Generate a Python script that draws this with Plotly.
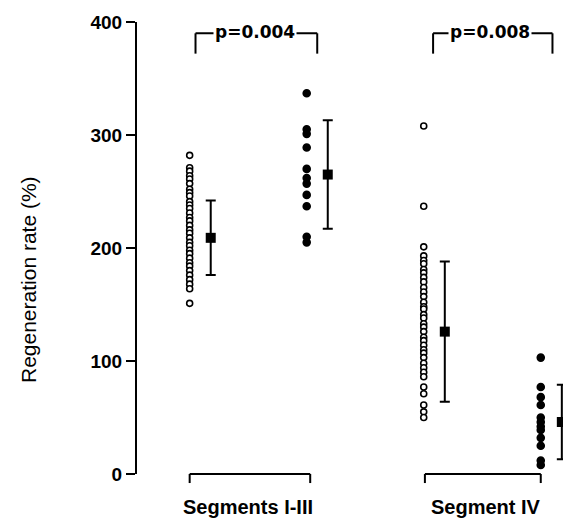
import plotly.graph_objects as go

# ---- data ----
group_labels = ["Segments I-III", "Segment IV"]
p_labels = ["p=0.004", "p=0.008"]
y_ticks = [0, 100, 200, 300, 400]

seg13_open = [282, 271, 268, 264, 261, 257, 252, 249, 246, 241, 238, 235, 231,
              227, 224, 220, 216, 213, 209, 205, 202, 198, 195, 191, 187, 184,
              180, 176, 172, 168, 164, 151]
seg13_filled = [337, 305, 301, 289, 270, 262, 257, 247, 237, 210, 205]
seg4_open = [308, 237, 201, 193, 189, 186, 181, 178, 174, 170, 165, 161, 157,
             152, 148, 146, 141, 138, 133, 130, 126, 121, 118, 114, 110, 107,
             103, 98, 94, 90, 86, 77, 71, 61, 55, 50]
seg4_filled = [103, 77, 68, 61, 50, 46, 42, 39, 32, 25, 12, 8]

means = [209, 265, 126, 46]
sds = [33, 48, 62, 33]

# ---- layout constants ----
col_x = [1, 2, 3, 4]
mean_off = 0.18
X_RANGE = [0.55, 4.19]
FONT = "Liberation Sans, Arial, sans-serif"


def xpaper(x):
    return (x - X_RANGE[0]) / (X_RANGE[1] - X_RANGE[0])


fig = go.Figure()

series = [seg13_open, seg13_filled, seg4_open, seg4_filled]
for i, vals in enumerate(series):
    filled = i % 2 == 1
    fig.add_trace(go.Scatter(
        x=[col_x[i]] * len(vals), y=vals, mode="markers",
        marker=dict(symbol="circle", size=7 if filled else 6,
                    color="black" if filled else "white",
                    line=dict(color="black", width=1.6)),
        cliponaxis=False, showlegend=False, hoverinfo="y"))

fig.add_trace(go.Scatter(
    x=[c + mean_off for c in col_x], y=means, mode="markers",
    marker=dict(symbol="square", size=10, color="black"),
    error_y=dict(type="data", array=sds, visible=True, color="black",
                 thickness=2, width=5),
    cliponaxis=False, showlegend=False))

shapes = []
line = dict(color="black", width=2)
# bottom brackets (paper coords so the end ticks are not clipped)
tick_down = -0.02
for a, b in [(1.0, 2.03), (3.01, 4.0)]:
    pa, pb = xpaper(a), xpaper(b)
    for s in [dict(x0=pa, x1=pb, y0=0, y1=0),
              dict(x0=pa, x1=pa, y0=0, y1=tick_down),
              dict(x0=pb, x1=pb, y0=0, y1=tick_down)]:
        shapes.append(dict(type="line", xref="paper", yref="paper",
                           line=line, **s))
# top brackets
for a, b in [(1.05, 2.09), (3.08, 4.1)]:
    pa, pb = xpaper(a), xpaper(b)
    for s in [dict(x0=pa, x1=pb, y0=390, y1=390),
              dict(x0=pa, x1=pa, y0=390, y1=372),
              dict(x0=pb, x1=pb, y0=390, y1=372)]:
        shapes.append(dict(type="line", xref="paper", yref="y",
                           line=line, **s))

annotations = []
for xc, txt in zip([1.56, 3.57], p_labels):
    annotations.append(dict(x=xc, y=391, xref="x", yref="y", text=txt,
                            showarrow=False, bgcolor="white", borderpad=1,
                            font=dict(family="DejaVu Sans", size=17,
                                      color="black", weight="bold")))
for xc, txt in zip([1.5, 3.53], group_labels):
    annotations.append(dict(x=xc, y=-0.073, xref="x", yref="paper", text=txt,
                            showarrow=False, yanchor="middle",
                            font=dict(family=FONT, size=20, color="black",
                                      weight="bold")))
annotations.append(dict(x=-0.255, y=0.43, xref="paper", yref="paper",
                        xanchor="center", yanchor="middle",
                        text="Regeneration rate (%)", textangle=-90,
                        showarrow=False,
                        font=dict(family=FONT, size=21, color="black")))

fig.update_layout(
    width=563, height=529,
    margin=dict(l=137, r=0, t=22, b=55),
    paper_bgcolor="white", plot_bgcolor="white",
    shapes=shapes, annotations=annotations,
    xaxis=dict(range=X_RANGE, visible=False, fixedrange=True),
    yaxis=dict(range=[0, 400], tickvals=y_ticks, showline=True,
               linecolor="black", linewidth=2, ticks="outside", ticklen=9,
               tickwidth=2, tickcolor="black", showgrid=False, zeroline=False,
               tickfont=dict(family=FONT, size=19, color="black",
                             weight="bold")),
)

fig.write_html(
    "out.html",
    config={"displayModeBar": False},
    post_script="document.body.style.margin='0';"
                "document.body.style.overflow='hidden';")
